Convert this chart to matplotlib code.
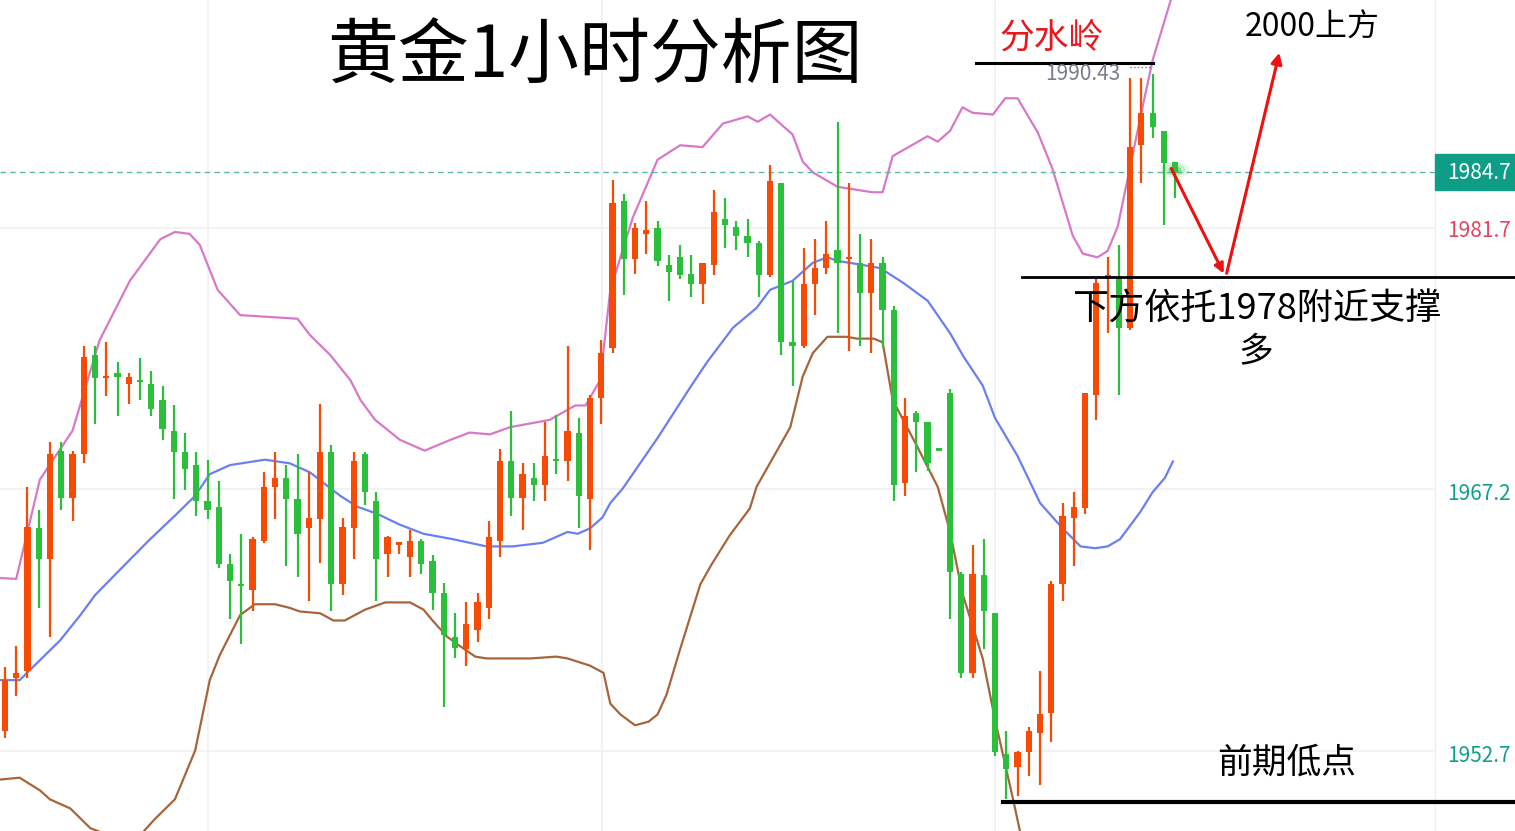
import matplotlib
matplotlib.use("Agg")
import matplotlib.pyplot as plt
from matplotlib.patches import FancyArrowPatch, Rectangle
import numpy as np

plt.rcParams['font.family'] = ['Noto Sans CJK SC', 'DejaVu Sans']

# OHLC (1-hour gold)
opens = [1954.1,1957.0,1957.4,1965.3,1963.6,1969.6,1967.0,1969.4,1974.9,1973.6,
         1973.9,1973.3,1973.5,1973.3,1972.4,1970.7,1969.5,1968.8,1966.8,1966.5,
         1963.3,1962.2,1961.9,1964.6,1967.6,1968.1,1966.9,1965.3,1965.8,1969.5,
         1962.2,1965.3,1969.4,1966.8,1963.9,1964.4,1963.7,1964.6,1963.5,1961.7,
         1959.3,1958.6,1959.7,1960.9,1964.6,1969.0,1967.0,1968.1,1967.7,1969.1,
         1969.0,1970.6,1966.9,1972.5,1975.3,1983.4,1980.2,1981.6,1981.9,1979.9,
         1980.3,1979.4,1978.8,1979.9,1982.4,1982.0,1981.5,1981.1,1979.3,1984.4,
         1975.6,1975.4,1978.8,1979.7,1980.7,1980.2,1980.0,1978.3,1980.0,1977.4,
         1967.8,1971.7,1971.2,1969.7,1972.8,1962.8,1957.3,1962.7,1960.6,1952.8,
         1952.1,1952.9,1954.0,1955.1,1962.2,1965.9,1966.4,1972.7,1979.1,1979.2,
         1976.4,1986.5,1988.3,1987.3,1985.6]
highs = [1957.6,1958.8,1967.6,1966.3,1970.1,1970.1,1969.6,1975.4,1975.4,1975.6,
         1974.5,1973.9,1974.7,1974.0,1973.2,1972.1,1970.6,1969.5,1969.1,1967.9,
         1963.9,1965.0,1964.8,1968.4,1969.5,1968.8,1969.4,1968.4,1972.2,1969.9,
         1965.9,1969.5,1969.5,1967.3,1964.9,1964.5,1965.2,1964.7,1963.8,1962.3,
         1960.6,1961.2,1961.7,1965.7,1969.7,1971.8,1968.9,1968.9,1971.2,1971.6,
         1975.4,1971.4,1972.7,1975.7,1984.6,1983.8,1982.2,1983.4,1982.3,1980.4,
         1981.0,1980.4,1980.0,1984.0,1983.6,1982.3,1982.4,1981.2,1985.4,1984.4,
         1979.0,1980.8,1981.3,1982.3,1987.8,1984.4,1981.6,1981.3,1980.3,1977.6,
         1972.5,1971.8,1971.2,1969.75,1973.0,1962.9,1964.4,1964.7,1960.6,1954.1,
         1953.0,1954.3,1957.4,1962.4,1966.7,1967.3,1972.8,1979.1,1980.3,1981.0,
         1990.2,1990.2,1990.43,1987.3,1985.6]
lows = [1953.7,1956.0,1957.0,1960.9,1959.3,1966.3,1965.7,1968.9,1971.1,1972.6,
        1971.5,1972.2,1972.4,1971.5,1970.2,1966.9,1967.4,1966.0,1965.8,1963.1,
        1960.3,1958.9,1960.7,1964.5,1965.8,1963.2,1962.6,1961.3,1963.4,1960.7,
        1961.6,1963.6,1966.6,1961.3,1962.6,1963.9,1962.6,1962.8,1960.8,1955.4,
        1958.1,1957.7,1959.0,1960.3,1963.7,1966.0,1965.2,1966.8,1966.8,1968.3,
        1967.9,1965.3,1964.1,1971.1,1975.0,1978.2,1979.4,1980.5,1979.8,1977.9,
        1979.1,1978.1,1977.7,1979.3,1980.8,1980.7,1980.3,1978.1,1979.2,1974.9,
        1973.2,1975.3,1977.1,1979.4,1976.1,1975.1,1975.4,1975.0,1975.3,1966.8,
        1967.1,1968.4,1968.5,1969.6,1960.3,1957.0,1957.0,1958.6,1952.7,1950.3,
        1950.5,1951.6,1951.1,1953.5,1961.3,1963.2,1966.1,1971.3,1976.1,1972.7,
        1976.3,1984.4,1986.9,1982.1,1983.6]
closes = [1956.9,1957.3,1965.4,1963.6,1969.4,1967.0,1969.4,1974.8,1973.6,1973.7,
          1973.7,1973.7,1973.4,1971.9,1970.8,1969.5,1968.6,1966.8,1966.3,1963.3,
          1962.4,1962.1,1964.7,1967.6,1968.1,1966.9,1965.0,1965.9,1969.5,1962.2,
          1965.4,1969.0,1967.3,1963.6,1964.8,1964.5,1964.6,1963.3,1961.7,1959.4,
          1958.7,1960.0,1961.2,1964.8,1969.0,1967.0,1968.3,1967.7,1969.3,1969.0,
          1970.7,1967.1,1972.5,1975.0,1983.3,1980.2,1981.9,1981.8,1980.1,1979.5,
          1979.3,1978.8,1980.0,1982.8,1982.1,1981.5,1981.1,1979.3,1984.5,1975.6,
          1975.4,1978.8,1979.7,1980.5,1980.0,1980.3,1978.3,1980.0,1977.4,1967.7,
          1971.5,1971.2,1968.9,1969.6,1962.9,1957.3,1962.8,1960.7,1952.9,1952.0,
          1952.9,1954.1,1955.0,1962.2,1966.0,1966.5,1972.8,1978.9,1979.3,1976.4,
          1986.4,1988.3,1987.5,1985.5,1985.0]

# Bollinger bands (candle index, price)
upper_idx = [-0.4,1.0,3.1,6.0,7.1,8.4,11.1,13.8,15.1,16.4,17.3,18.9,20.9,26.0,27.1,28.9,30.7,31.6,32.9,35.1,
             37.3,39.6,41.3,43.1,44.9,48.4,50.7,51.6,52.9,53.8,55.8,58.0,60.0,62.0,63.8,66.0,66.9,68.0,70.0,70.9,
             71.8,74.0,77.1,78.0,78.9,82.0,82.9,84.0,85.1,86.0,87.8,88.9,90.0,91.8,93.1,94.9,95.8,97.1,98.0,98.9,
             99.8,101.1,102.0,103.6,104.0]
upper_val = [1962.55,1962.5,1968.0,1970.7,1973.0,1975.7,1979.0,1981.3,1981.7,1981.6,1981.0,1978.5,1977.1,1976.9,1976.0,1974.9,1973.5,1972.4,1971.3,1970.2,
             1969.6,1970.2,1970.6,1970.5,1970.9,1971.3,1972.1,1972.1,1973.5,1978.5,1982.5,1985.7,1986.5,1986.4,1987.7,1988.1,1987.8,1988.2,1987.1,1985.6,
             1985.0,1984.2,1983.9,1983.9,1985.9,1987.0,1986.7,1987.3,1988.6,1988.3,1988.2,1989.1,1989.1,1987.2,1985.2,1981.5,1980.5,1980.3,1980.65,1982.0,
             1984.7,1988.6,1991.2,1994.5,1995.7]
mid_idx = [-0.4,1.3,3.1,4.9,6.7,8.0,10.2,12.9,15.1,16.9,18.2,20.0,23.1,25.3,27.1,29.8,31.3,33.1,35.1,37.2,
           39.8,42.8,45.1,47.8,50.0,50.9,52.0,53.1,53.8,54.9,58.0,60.9,62.4,64.7,66.8,68.0,70.0,71.8,73.1,74.0,
           76.0,77.8,79.8,82.0,84.0,85.2,86.9,88.0,90.0,92.0,94.0,95.6,96.9,98.0,99.1,100.9,102.0,103.1,103.8]
mid_val = [1956.9,1956.9,1958.0,1959.1,1960.5,1961.6,1963.0,1964.7,1966.0,1967.1,1968.3,1968.8,1969.1,1968.9,1968.4,1967.1,1966.5,1966.1,1965.5,1965.0,
           1964.7,1964.3,1964.3,1964.5,1965.1,1965.0,1965.3,1965.9,1966.7,1967.5,1970.3,1973.1,1974.5,1976.4,1977.5,1978.5,1979.0,1980.0,1980.3,1980.1,
           1979.9,1979.7,1978.9,1977.9,1976.1,1974.8,1973.2,1971.4,1969.3,1966.7,1965.3,1964.3,1964.2,1964.3,1964.7,1966.2,1967.3,1968.1,1969.0]
lower_idx = [-0.4,1.3,3.1,4.0,5.8,7.6,9.3,12.0,13.3,15.1,16.9,18.2,19.1,20.9,22.2,24.0,25.3,26.2,28.0,29.2,
             30.2,32.0,33.8,36.0,37.2,38.0,39.3,40.4,41.8,42.8,46.7,49.0,50.0,52.0,53.2,53.8,54.7,56.0,57.2,58.0,
             58.8,60.0,61.8,62.8,64.4,66.2,66.8,69.8,70.9,71.8,73.1,74.8,75.7,77.2,78.0,78.9,81.1,82.9,84.0,85.1,
             86.9,88.0,89.6,90.4]
lower_val = [1951.4,1951.5,1950.8,1950.3,1949.8,1948.7,1948.3,1948.3,1949.2,1950.3,1953.0,1956.9,1958.3,1960.5,1961.1,1961.1,1960.9,1960.7,1960.6,1960.2,
             1960.2,1960.8,1961.2,1961.2,1960.8,1960.2,1959.3,1958.8,1958.2,1958.1,1958.1,1958.2,1958.1,1957.7,1957.3,1955.6,1955.0,1954.4,1954.6,1955.0,
             1956.1,1958.6,1962.2,1963.3,1964.9,1966.4,1967.6,1970.9,1973.7,1975.0,1975.9,1975.9,1975.8,1975.8,1975.6,1972.4,1969.8,1967.6,1965.1,1961.7,
             1958.1,1954.7,1950.3,1948.0]

price_labels = ["1984.7", "1981.7", "1967.2", "1952.7"]
UP = "#f64a05"; DOWN = "#2bbf3c"

W, H = 1515, 831
fig = plt.figure(figsize=(W/100, H/100), dpi=100)
ax = fig.add_axes([0, 0, 1435/W, 1])
ax.set_xlim(-0.444, 127.1)
ax.set_ylim(1948.55, 1994.54)
for s in ax.spines.values():
    s.set_visible(False)
ax.set_xticks([]); ax.set_yticks([])

for g in [1981.9, 1967.5, 1953.0]:
    ax.axhline(g, color="#f0f0f4", lw=1.2, zorder=0)
for g in [18.0, 53.1, 88.0]:
    ax.axvline(g, color="#f0f0f4", lw=1.2, zorder=0)
fig.add_artist(plt.Line2D([1435/W]*2, [0, 1], color="#eeeef2", lw=1))

ax.plot(upper_idx, upper_val, color="#d878c8", lw=1.6, zorder=1)
ax.plot(mid_idx, mid_val, color="#6a80f0", lw=1.6, zorder=1)
ax.plot(lower_idx, lower_val, color="#a6653a", lw=1.6, zorder=1)

x = np.arange(len(opens))
for i in x:
    o, h, l, c = opens[i], highs[i], lows[i], closes[i]
    col = UP if c >= o else DOWN
    ax.vlines(i, l, h, color=col, lw=1.6, zorder=2)
    bot = min(o, c); ht = max(abs(c - o), 0.12)
    ax.bar(i, ht, bottom=bot, width=0.55, color=col, zorder=3, linewidth=0)

ax.axhline(closes[-1], color="#5cb8a8", lw=1, ls=(0, (4, 3)), zorder=1)

def fx(px): return px / W
def fy(py): return 1 - py / H

for r, a in [(14, 0.08), (10, 0.15), (6, 0.3), (3, 0.8)]:
    fig.add_artist(plt.Circle((fx(1175), fy(170)), r / W, color="#2bbf3c", alpha=a,
                              transform=fig.transFigure))

fig.text(fx(595), fy(57), "黄金1小时分析图", fontsize=51, ha="center", va="center", color="black")
fig.text(fx(1052), fy(38), "分水岭", fontsize=25, ha="center", va="center", color="#e8181e")
fig.add_artist(plt.Line2D([fx(976), fx(1153)], [fy(63)]*2, color="black", lw=2.2))
fig.add_artist(plt.Line2D([fx(1130), fx(1150)], [fy(67)]*2, color="#777", lw=1, ls=":"))
fig.text(fx(1083), fy(74), "1990.43", fontsize=15, ha="center", va="center", color="#7a7e8a")
fig.text(fx(1312), fy(28), "2000上方", fontsize=23, ha="center", va="center", color="black")
fig.add_artist(plt.Line2D([fx(1022), fx(1515)], [fy(277)]*2, color="black", lw=2))
fig.text(fx(1257), fy(310), "下方依托1978附近支撑", fontsize=26, ha="center", va="center", color="black")
fig.text(fx(1256), fy(352), "多", fontsize=25, ha="center", va="center", color="black")
fig.text(fx(1287), fy(763), "前期低点", fontsize=25, ha="center", va="center", color="black")
fig.add_artist(plt.Line2D([fx(1003), fx(1515)], [fy(802)]*2, color="black", lw=3))

fig.add_artist(FancyArrowPatch((fx(1170), fy(166)), (fx(1225), fy(276)), transform=fig.transFigure,
                               arrowstyle="-|>", mutation_scale=14, color="#f01010", lw=2.2))
fig.add_artist(FancyArrowPatch((fx(1226), fy(276)), (fx(1280), fy(50)), transform=fig.transFigure,
                               arrowstyle="-|>", mutation_scale=16, color="#f01010", lw=2.2))

fig.add_artist(Rectangle((fx(1435), fy(190)), 80 / W, 36 / H, transform=fig.transFigure,
                         color="#0e9e88", zorder=5))
fig.text(fx(1447), fy(173), price_labels[0], fontsize=15, ha="left", va="center", color="white", zorder=6)
fig.text(fx(1447), fy(231), price_labels[1], fontsize=15, ha="left", va="center", color="#e2455e")
fig.text(fx(1447), fy(494), price_labels[2], fontsize=15, ha="left", va="center", color="#10a08a")
fig.text(fx(1447), fy(756), price_labels[3], fontsize=15, ha="left", va="center", color="#10a08a")

fig.savefig("out.png", dpi=100)
